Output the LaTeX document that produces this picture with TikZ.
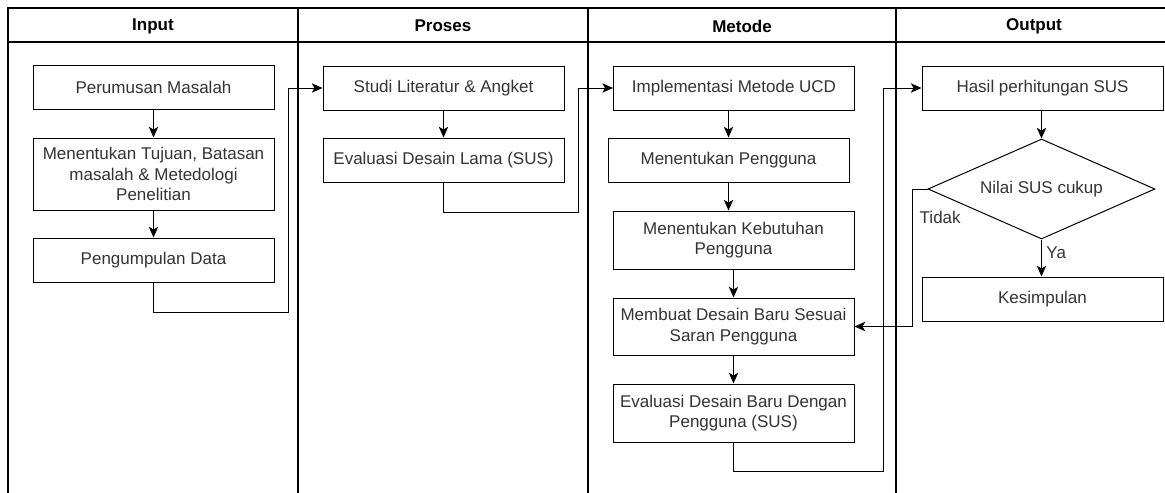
\documentclass[tikz,border=0pt]{standalone}
\usepackage{fontspec}
\setmainfont{Liberation Sans}
\usetikzlibrary{shapes.geometric, arrows.meta}

\begin{document}
\begin{tikzpicture}[x=0.75pt, y=-0.75pt,
    lane/.style={line width=0.9pt},
    head/.style={font=\fontsize{12.75}{15.5}\selectfont\bfseries},
    box/.style={draw, rectangle, line width=0.75pt, align=center, text=black!80,
        minimum width=180.75pt, minimum height=33pt, inner sep=0pt,
        font=\fontsize{12.75}{15.5}\selectfont},
    cond/.style={box, diamond, minimum width=170.25pt, minimum height=75pt, shape aspect=2.27},
    lbl/.style={text=black!80, font=\fontsize{12.75}{15.5}\selectfont},
    arr/.style={-{Stealth[length=8pt, width=7pt, inset=2pt]}, line width=0.75pt}]
        \useasboundingbox (0,0) rectangle (1165,493);
        \clip (0,0) rectangle (1165,493);

        % Lanes
        \draw[lane] (8,8) rectangle (298,520);
        \draw[lane] (298,8) rectangle (588,520);
        \draw[lane] (588,8) rectangle (896,520);
        \draw[lane] (896,8) rectangle (1180,520);
        \draw[lane] (8,42) -- (1180,42);
        \node[head] (hin) at (153,26) {Input};
        \node[head] (hpr) at (443,26) {Proses};
        \node[head] (hme) at (742,26) {Metode};
        \node[head] (hou) at (1034,26) {Output};

        % Input
        \node[box] (pm) at (153.5,87.5) {Perumusan Masalah};
        \node[box, minimum height=54pt] (tuj) at (153.5,174) {Menentukan Tujuan, Batasan\\masalah \& Metedologi\\Penelitian};
        \node[box] (dat) at (153.5,260) {Pengumpulan Data};
        \draw[arr] (pm) -- (tuj);
        \draw[arr] (tuj) -- (dat);

        % Proses
        \node[box] (stu) at (443.5,88) {Studi Literatur \& Angket};
        \node[box] (evl) at (443.5,160) {Evaluasi Desain Lama (SUS)};
        \draw[arr] (stu) -- (evl);

        % Metode
        \node[box] (ucd) at (734,88) {Implementasi Metode UCD};
        \node[box] (usr) at (728.5,160) {Menentukan Pengguna};
        \node[box, minimum height=43.5pt] (keb) at (733.5,240) {Menentukan Kebutuhan\\Pengguna};
        \node[box, minimum height=42.75pt] (bar) at (733.5,326.5) {Membuat Desain Baru Sesuai\\Saran Pengguna};
        \node[box, minimum height=43.5pt] (evb) at (733.5,413) {Evaluasi Desain Baru Dengan\\Pengguna (SUS)};
        \draw[arr] (usr.north |- ucd.south) -- (usr.north);
        \draw[arr] (usr.south) -- (usr.south |- keb.north);
        \draw[arr] (keb) -- (bar);
        \draw[arr] (bar) -- (evb);

        % Output
        \node[box] (sus) at (1042.5,88) {Hasil perhitungan SUS};
        \node[cond] (cek) at (1041.5,189) {Nilai SUS cukup};
        \node[box] (kes) at (1042.5,299) {Kesimpulan};
        \draw[arr] (cek.north |- sus.south) -- (cek.north);
        \draw[arr] (cek.south) -- (cek.south |- kes.north) node[lbl, pos=0.37, right] (ya) {Ya};
        \node[lbl, anchor=west] (tdk) at (915,217) {Tidak};

        % Lane to lane
        \coordinate (c1) at (288,312);
        \coordinate (c2) at (578,212);
        \coordinate (c3) at (883,471);
        \coordinate (c4) at (912,326.5);
        \draw[arr] (dat.south) |- (c1) |- (stu.west);
        \draw[arr] (evl.south) |- (c2) |- (ucd.west);
        \draw[arr] (evb.south) |- (c3) |- (sus.west);
        \draw[arr] (cek.west) -| (c4) -- (bar.east);
\end{tikzpicture}
\end{document}
